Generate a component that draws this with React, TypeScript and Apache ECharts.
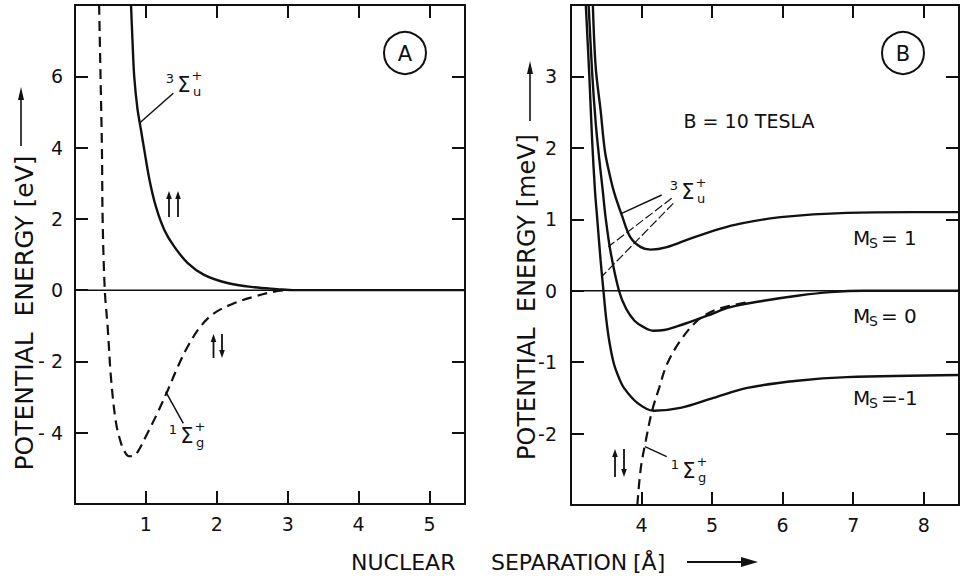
import React, { useEffect, useRef } from "react";
import * as echarts from "echarts";

// ---------- Panel A (eV) ----------
const tripletA: [number, number][] = [
  [0.79, 8.0], [0.81, 7.03], [0.835, 6.0], [0.88, 5.1], [0.93, 4.5], [0.98, 3.9],
  [1.05, 3.1], [1.14, 2.35], [1.26, 1.69], [1.4, 1.22], [1.59, 0.76], [1.82, 0.43],
  [2.15, 0.2], [2.53, 0.08], [2.85, 0.03], [3.1, 0.0], [5.5, 0.0],
];
const singletA: [number, number][] = [
  [0.34, 8.0], [0.36, 6.0], [0.38, 3.94], [0.39, 1.97], [0.42, 0.0], [0.46, -1.02],
  [0.51, -2.52], [0.58, -3.74], [0.65, -4.3], [0.7, -4.53], [0.76, -4.66], [0.82, -4.65],
  [0.88, -4.55], [1.02, -4.02], [1.16, -3.46], [1.31, -2.8], [1.45, -2.15], [1.59, -1.58],
  [1.77, -1.02], [1.96, -0.65], [2.24, -0.37], [2.53, -0.18], [2.81, -0.04], [3.0, 0.0],
];
const zeroA: [number, number][] = [[0, 0], [5.5, 0]];
const xTicksA = [1, 2, 3, 4, 5];
const xTickLabelsA = ["1", "2", "3", "4", "5"];
const yTicksA = [-4, -2, 0, 2, 4, 6];
const yTickLabelsA = ["- 4", "- 2", "0", "2", "4", "6"];

// ---------- Panel B (meV) ----------
const ms1B: [number, number][] = [
  [3.31, 4.0], [3.35, 3.13], [3.42, 2.52], [3.48, 1.96], [3.54, 1.66], [3.61, 1.38],
  [3.73, 1.03], [3.84, 0.75], [3.99, 0.61], [4.13, 0.575], [4.36, 0.61], [4.69, 0.73],
  [5.12, 0.87], [5.4, 0.94], [5.97, 1.03], [6.91, 1.09], [7.85, 1.1], [8.5, 1.1],
];
const ms0B: [number, number][] = [
  [3.25, 4.0], [3.3, 3.05], [3.35, 2.35], [3.4, 1.85], [3.45, 1.4], [3.49, 1.03],
  [3.56, 0.55], [3.68, 0.0], [3.78, -0.25], [3.9, -0.42], [4.03, -0.51], [4.17, -0.56],
  [4.32, -0.55], [4.5, -0.5], [4.65, -0.45], [4.93, -0.35], [5.26, -0.23], [5.73, -0.14],
  [6.21, -0.07], [6.68, -0.02], [7.15, 0.0], [8.5, 0.0],
];
const msm1B: [number, number][] = [
  [3.21, 4.0], [3.26, 3.0], [3.3, 2.1], [3.34, 1.4], [3.37, 1.03], [3.42, 0.42],
  [3.46, 0.0], [3.5, -0.4], [3.55, -0.75], [3.61, -1.03], [3.68, -1.22], [3.75, -1.36],
  [3.94, -1.57], [4.17, -1.68], [4.55, -1.64], [5.02, -1.5], [5.5, -1.36], [6.21, -1.26],
  [6.91, -1.21], [8.5, -1.18],
];
const singletB: [number, number][] = [
  [3.94, -3.0], [3.99, -2.48], [4.06, -2.1], [4.15, -1.68], [4.25, -1.36], [4.36, -1.03],
  [4.55, -0.7], [4.79, -0.42], [5.02, -0.28], [5.26, -0.21], [5.5, -0.16],
];
const zeroB: [number, number][] = [[3, 0], [8.5, 0]];
const xTicksB = [4, 5, 6, 7, 8];
const xTickLabelsB = ["4", "5", "6", "7", "8"];
const yTicksB = [-2, -1, 0, 1, 2, 3];
const yTickLabelsB = ["-2", "-1", "0", "1", "2", "3"];

const FONT = '"DejaVu Sans", "Liberation Sans", sans-serif';
const INK = "#111";

function labelMap(vals: number[], labels: string[]) {
  return (v: number) => {
    const i = vals.findIndex((t) => Math.abs(t - v) < 1e-6);
    return i >= 0 ? labels[i] : "";
  };
}

function axisBase(extra: any) {
  return {
    type: "value",
    splitLine: { show: false },
    axisLine: { show: true, onZero: false, lineStyle: { color: INK, width: 2 } },
    axisTick: { show: true, inside: true, length: 13, lineStyle: { color: INK, width: 2 } },
    ...extra,
  };
}

function txt(text: string, x: number, y: number, size: number, align = "center", extra: any = {}) {
  return {
    type: "text",
    x,
    y,
    z: 100,
    ...extra,
    style: {
      text,
      fill: INK,
      fontSize: size,
      fontFamily: FONT,
      textAlign: align,
      align,
      textVerticalAlign: "middle",
      verticalAlign: "middle",
    },
  };
}

function seg(x1: number, y1: number, x2: number, y2: number, w = 1.5, dash?: number[]) {
  return {
    type: "line",
    z: 100,
    shape: { x1, y1, x2, y2 },
    style: { stroke: INK, lineWidth: w, lineDash: dash || null },
  };
}

function tri(points: number[][]) {
  return { type: "polygon", z: 100, shape: { points }, style: { fill: INK } };
}

// vertical spin arrow, head at yHead
function spin(x: number, yTail: number, yHead: number) {
  const d = yHead < yTail ? 1 : -1;
  return [
    seg(x, yTail, x, yHead + d * 4, 1.8),
    tri([[x - 2.8, yHead + d * 8], [x + 2.8, yHead + d * 8], [x, yHead]]),
  ];
}

function sigma(x: number, y: number, pre: string, sub: string) {
  // x,y = centre of the Sigma glyph
  return [
    txt(pre, x - 14, y - 7, 13),
    txt("Σ", x, y, 21),
    txt("+", x + 13, y - 10, 13),
    txt(sub, x + 13, y + 6, 13),
  ];
}

function msLabel(x: number, y: number, rest: string) {
  return [
    txt("M", x, y, 20, "left"),
    txt("S", x + 16, y + 5, 14, "left"),
    txt(rest, x + 28, y, 20, "left"),
  ];
}

export default function App() {
  const ref = useRef<HTMLDivElement>(null);
  useEffect(() => {
    if (!ref.current) return;
    const chart = echarts.init(ref.current, undefined, { renderer: "svg" });
    const solid = { color: INK, width: 2.4 };
    const dashed = { color: INK, width: 2.2, type: [10, 6] };
    const mk = (data: [number, number][], xi: number, yi: number, ls: any) => ({
      type: "line",
      data,
      xAxisIndex: xi,
      yAxisIndex: yi,
      showSymbol: false,
      symbol: "none",
      smooth: 0.35,
      lineStyle: ls,
      silent: true,
    });

    chart.setOption({
      animation: false,
      backgroundColor: "#fff",
      textStyle: { fontFamily: FONT },
      grid: [
        { left: 75, top: 5, width: 390, height: 499 },
        { left: 571, top: 5, width: 388, height: 500 },
      ],
      xAxis: [
        axisBase({
          gridIndex: 0, min: 0, max: 5.5, interval: 1, position: "bottom",
          axisLabel: { formatter: labelMap(xTicksA, xTickLabelsA), fontSize: 19, color: INK, margin: 10, fontFamily: FONT },
        }),
        axisBase({ gridIndex: 0, min: 0, max: 5.5, interval: 1, position: "top", axisLabel: { show: false } }),
        axisBase({
          gridIndex: 1, min: 3, max: 8.5, interval: 1, position: "bottom",
          axisLabel: { formatter: labelMap(xTicksB, xTickLabelsB), fontSize: 19, color: INK, margin: 10, fontFamily: FONT },
        }),
        axisBase({ gridIndex: 1, min: 3, max: 8.5, interval: 1, position: "top", axisLabel: { show: false } }),
      ],
      yAxis: [
        axisBase({
          gridIndex: 0, min: -6, max: 8, interval: 2, position: "left",
          axisLabel: { formatter: labelMap(yTicksA, yTickLabelsA), fontSize: 19, color: INK, margin: 12, fontFamily: FONT },
        }),
        axisBase({ gridIndex: 0, min: -6, max: 8, interval: 2, position: "right", axisLabel: { show: false } }),
        axisBase({
          gridIndex: 1, min: -3, max: 4, interval: 1, position: "left",
          axisLabel: { formatter: labelMap(yTicksB, yTickLabelsB), fontSize: 19, color: INK, margin: 14, fontFamily: FONT },
        }),
        axisBase({ gridIndex: 1, min: -3, max: 4, interval: 1, position: "right", axisLabel: { show: false } }),
      ],
      series: [
        mk(zeroA, 0, 0, { color: INK, width: 1.5 }),
        mk(tripletA, 0, 0, solid),
        mk(singletA, 0, 0, dashed),
        mk(zeroB, 2, 2, { color: INK, width: 1.5 }),
        mk(ms1B, 2, 2, solid),
        mk(ms0B, 2, 2, solid),
        mk(msm1B, 2, 2, solid),
        mk(singletB, 2, 2, dashed),
      ],
      graphic: [
        // circled panel letters
        { type: "circle", z: 100, shape: { cx: 405, cy: 53, r: 21 }, style: { fill: "none", stroke: INK, lineWidth: 2 } },
        txt("A", 405, 54, 21),
        { type: "circle", z: 100, shape: { cx: 903, cy: 53, r: 21 }, style: { fill: "none", stroke: INK, lineWidth: 2 } },
        txt("B", 903, 54, 21),
        // panel A annotations
        ...sigma(184, 85, "3", "u"),
        seg(139.3, 123.3, 173.3, 93.3, 1.5),
        ...sigma(187, 436, "1", "g"),
        seg(165.7, 391.7, 183.3, 423.3, 1.5),
        ...spin(169, 217, 191),
        ...spin(178, 217, 191),
        ...spin(213.5, 358, 334),
        ...spin(222, 334, 358),
        // panel B annotations
        txt("B = 10 TESLA", 749, 121, 19),
        ...sigma(688, 192, "3", "u"),
        seg(661.7, 195, 621.7, 213.3, 1.4),
        seg(671.7, 198.3, 608.3, 246.7, 1.2, [9, 3]),
        seg(673.3, 203.3, 601.7, 276.7, 1.2, [9, 3]),
        ...sigma(689, 471, "1", "g"),
        seg(645, 446.7, 666.7, 456.7, 1.4),
        ...spin(615, 477, 449),
        ...spin(624, 449, 477),
        ...msLabel(853, 238, "= 1"),
        ...msLabel(853, 316, "= 0"),
        ...msLabel(853, 398, "=-1"),
        // axis titles
        txt("POTENTIAL  ENERGY [eV]", 24, 313, 25, "center", { rotation: Math.PI / 2 }),
        seg(21, 146, 21, 96, 1.6),
        tri([[18, 100], [24, 100], [21, 87]]),
        txt("POTENTIAL  ENERGY [meV]", 527, 297, 24, "center", { rotation: Math.PI / 2 }),
        seg(530, 121, 530, 70, 1.6),
        tri([[527, 74], [533, 74], [530, 61]]),
        txt("NUCLEAR", 351, 562, 22, "left"),
        txt("SEPARATION", 491, 562, 22, "left"),
        txt("[Å]", 633, 562, 22, "left"),
        seg(687, 562, 745, 562, 1.8),
        tri([[741, 557], [741, 567], [758, 562]]),
      ],
    });
    return () => chart.dispose();
  }, []);
  return (
    <div
      ref={ref}
      style={{ position: "fixed", left: 0, top: 0, width: 967, height: 578, background: "#fff" }}
    />
  );
}
